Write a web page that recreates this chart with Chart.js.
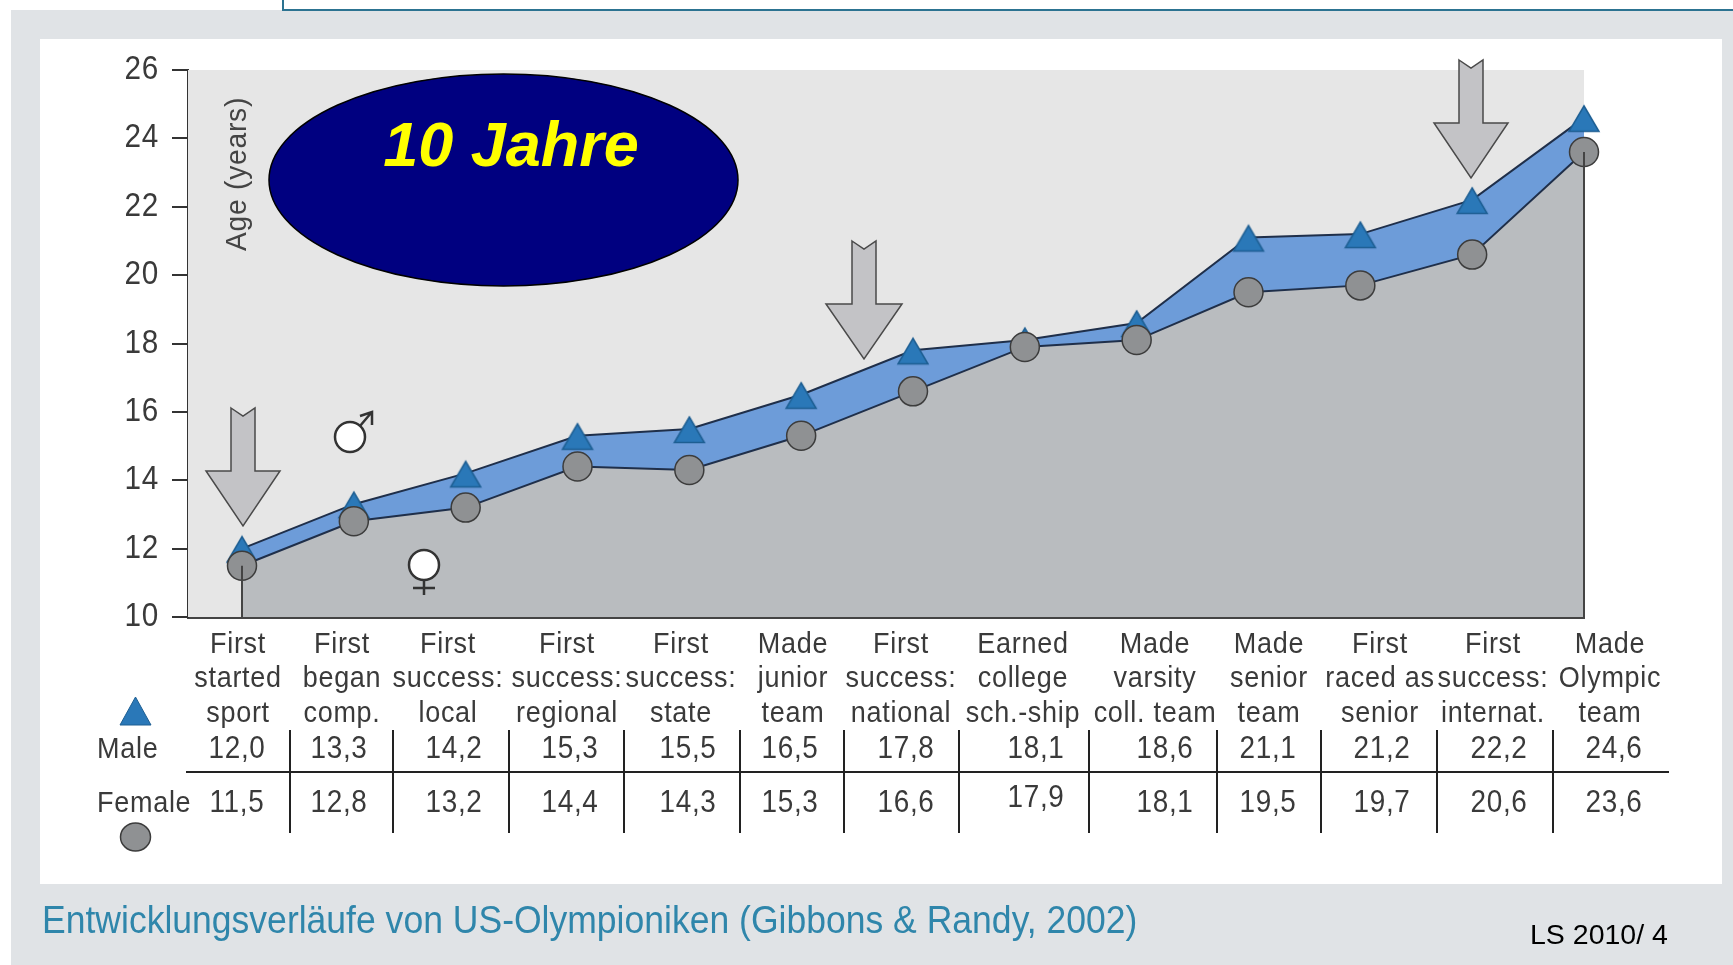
<!DOCTYPE html>
<html>
<head>
<meta charset="utf-8">
<title>Entwicklungsverläufe</title>
<script src="https://cdn.jsdelivr.net/npm/chart.js@4/dist/chart.umd.js"></script>
<style>
	html, body {margin: 0; padding: 0; width: 1733px; height: 965px; overflow: hidden; background: #fff;}
	div, canvas {position: absolute;}
	#frame {left: 11px; top: 10px; width: 1722px; height: 955px; background: #e0e3e6;}
	#topbox {left: 282px; top: -6px; width: 1460px; height: 13px; border: 2px solid #2c7391; background: #fff;}
	#panel {left: 40px; top: 39px; width: 1682px; height: 845px; background: #fff;}
	#chart {left: 0; top: 0;}
	#caption {left: 42px; top: 899px; font: 38px "Liberation Sans", sans-serif; color: #2f86ab; white-space: nowrap; transform: scaleX(0.935); transform-origin: left top;}
	#stamp {left: 1530px; top: 918px; font: 28.5px "Liberation Sans", sans-serif; color: #000; white-space: nowrap;}
</style>
</head>
<body>
<div id="frame"></div>
<div id="topbox"></div>
<div id="panel"></div>
<canvas id="chart" width="1733" height="965"></canvas>
<div id="caption">Entwicklungsverläufe von US-Olympioniken (Gibbons &amp; Randy, 2002)</div>
<div id="stamp">LS 2010/ 4</div>
<script>
var categories = [
	['First', 'started', 'sport'],
	['First', 'began', 'comp.'],
	['First', 'success:', 'local'],
	['First', 'success:', 'regional'],
	['First', 'success:', 'state'],
	['Made', 'junior', 'team'],
	['First', 'success:', 'national'],
	['Earned', 'college', 'sch.-ship'],
	['Made', 'varsity', 'coll. team'],
	['Made', 'senior', 'team'],
	['First', 'raced as', 'senior'],
	['First', 'success:', 'internat.'],
	['Made', 'Olympic', 'team']
];
var male = [12.0, 13.3, 14.2, 15.3, 15.5, 16.5, 17.8, 18.1, 18.6, 21.1, 21.2, 22.2, 24.6];
var female = [11.5, 12.8, 13.2, 14.4, 14.3, 15.3, 16.6, 17.9, 18.1, 19.5, 19.7, 20.6, 23.6];

// where the printed table puts things, it does not line up with the points
var labelCenters = [238, 342, 448, 567, 681, 793, 901, 1023, 1155, 1269, 1380, 1493, 1610];
var valueCenters = [237, 339, 454, 570, 688, 790, 906, 1036, 1165, 1268, 1382, 1499, 1614];
var dividers = [290, 393, 509, 624, 740, 844, 959, 1089, 1217, 1321, 1437, 1553];
var arrows = [
	{x: 243, top: 408, neck: 471, tip: 526, shaft: 12, head: 37},
	{x: 864, top: 241, neck: 304, tip: 359, shaft: 12, head: 38},
	{x: 1471, top: 60, neck: 123, tip: 178, shaft: 12, head: 37}
];

var FONT_SANS = '"Liberation Sans", sans-serif';
var TEXT_COLOR = '#3a3a3a';
var PLOT_LEFT = 188;
var FIRST_POINT = 242;
var PLOT_RIGHT = 1584;
var indexUnit = (PLOT_RIGHT - FIRST_POINT) / (male.length - 1);

// the print uses a condensed face and none is installed, so squeeze the glyphs
var textSqueeze = 0.9;

function squeezeText(ctx) {
	var fillText = ctx.fillText;
	ctx.fillText = function(text, x, y) {
		ctx.save();
		ctx.translate(x, y);
		ctx.scale(textSqueeze, 1);
		fillText.call(ctx, text, 0, 0);
		ctx.restore();
	};
}

function toIndex(px) {
	return (px - FIRST_POINT) / indexUnit;
}

function toPoints(values) {
	return values.map(function(v, i) {
		return {x: i, y: v};
	});
}

function formatValue(v) {
	return v.toFixed(1).replace('.', ',');
}

function drawTriangle(ctx, x, y, w, h) {
	ctx.beginPath();
	ctx.moveTo(x, y);
	ctx.lineTo(x + w / 2, y + h);
	ctx.lineTo(x - w / 2, y + h);
	ctx.closePath();
	ctx.fill();
	ctx.stroke();
}

// the triangles hang lower on the line than the built in style does
function createTriangleMarker() {
	var canvas = document.createElement('CANVAS');
	var ctx;
	canvas.width = 34;
	canvas.height = 32;
	ctx = canvas.getContext('2d');
	ctx.fillStyle = '#2a78b8';
	ctx.strokeStyle = '#1d5e92';
	ctx.lineWidth = 1.5;
	drawTriangle(ctx, 17, 4, 30, 25.5);
	return canvas;
}

function drawOval(ctx, x, y, rx, ry) {
	ctx.beginPath();
	ctx.ellipse(x, y, rx, ry, 0, 0, Math.PI * 2);
	ctx.fill();
	ctx.stroke();
}

function drawArrow(ctx, a) {
	ctx.beginPath();
	ctx.moveTo(a.x - a.shaft, a.top);
	ctx.lineTo(a.x, a.top + 8);
	ctx.lineTo(a.x + a.shaft, a.top);
	ctx.lineTo(a.x + a.shaft, a.neck);
	ctx.lineTo(a.x + a.head, a.neck);
	ctx.lineTo(a.x, a.tip);
	ctx.lineTo(a.x - a.head, a.neck);
	ctx.lineTo(a.x - a.shaft, a.neck);
	ctx.closePath();
	ctx.fillStyle = '#c3c3c6';
	ctx.strokeStyle = '#4a4a4a';
	ctx.lineWidth = 1.5;
	ctx.fill();
	ctx.stroke();
}

function drawGenderSigns(ctx) {
	ctx.fillStyle = '#fff';
	ctx.strokeStyle = '#333';
	ctx.lineWidth = 2.5;
	drawOval(ctx, 350, 437, 15, 15);
	drawOval(ctx, 424, 565, 15, 15);
	ctx.beginPath();
	ctx.moveTo(360, 426);
	ctx.lineTo(371, 413);
	ctx.moveTo(360, 416);
	ctx.lineTo(372, 412);
	ctx.lineTo(372, 425);
	ctx.moveTo(424, 580);
	ctx.lineTo(424, 595);
	ctx.moveTo(413, 588);
	ctx.lineTo(435, 588);
	ctx.stroke();
}

function drawTable(ctx) {
	var i;

	ctx.strokeStyle = '#222';
	ctx.lineWidth = 2;
	ctx.beginPath();
	ctx.moveTo(186, 772);
	ctx.lineTo(1669, 772);
	for (i = 0; i < dividers.length; i++) {
		ctx.moveTo(dividers[i], 730);
		ctx.lineTo(dividers[i], 833);
	}
	ctx.stroke();

	ctx.fillStyle = TEXT_COLOR;
	ctx.font = '31px ' + FONT_SANS;
	ctx.textAlign = 'center';
	ctx.textBaseline = 'alphabetic';
	for (i = 0; i < male.length; i++) {
		ctx.fillText(formatValue(male[i]), valueCenters[i], 758);
		// the 17,9 sits a little higher in the print
		ctx.fillText(formatValue(female[i]), valueCenters[i], i === 7 ? 807 : 812);
	}

	ctx.font = '30px ' + FONT_SANS;
	ctx.textAlign = 'left';
	ctx.fillText('Male', 97, 758);
	ctx.fillText('Female', 97, 812);

	ctx.fillStyle = '#2a78b8';
	ctx.strokeStyle = '#1d5e92';
	ctx.lineWidth = 1;
	drawTriangle(ctx, 135.5, 697, 31, 28);
	ctx.fillStyle = '#8f9193';
	ctx.strokeStyle = '#3c3c3c';
	ctx.lineWidth = 1.5;
	drawOval(ctx, 135.5, 837, 15, 14);
}

function drawBanner(ctx) {
	ctx.fillStyle = '#000080';
	ctx.strokeStyle = '#000';
	ctx.lineWidth = 1.5;
	drawOval(ctx, 503.5, 180, 234.5, 106);
	ctx.fillStyle = '#ff0';
	ctx.font = 'italic bold 63px ' + FONT_SANS;
	ctx.textAlign = 'center';
	ctx.textBaseline = 'alphabetic';
	ctx.letterSpacing = '0px';
	textSqueeze = 1;
	ctx.fillText('10 Jahre', 511, 166);
	textSqueeze = 0.9;
}

var printPlugin = {
	id: 'print',
	beforeDraw: function(chart) {
		chart.ctx.letterSpacing = '0.8px';
	},
	beforeDatasetsDraw: function(chart) {
		var ctx = chart.ctx;
		var area = chart.chartArea;
		ctx.save();
		ctx.fillStyle = '#e6e6e6';
		ctx.fillRect(area.left, area.top, area.right - area.left, area.bottom - area.top);
		ctx.restore();
	},
	afterDatasetsDraw: function(chart) {
		var ctx = chart.ctx;
		var xs = chart.scales.x;
		var ys = chart.scales.y;
		var last = female.length - 1;

		ctx.save();
		// drop lines closing the grey area at both ends
		ctx.strokeStyle = '#444';
		ctx.lineWidth = 2;
		ctx.beginPath();
		ctx.moveTo(xs.getPixelForValue(0), ys.getPixelForValue(female[0]));
		ctx.lineTo(xs.getPixelForValue(0), ys.getPixelForValue(10));
		ctx.moveTo(xs.getPixelForValue(last), ys.getPixelForValue(female[last]));
		ctx.lineTo(xs.getPixelForValue(last), ys.getPixelForValue(10));
		ctx.stroke();

		arrows.forEach(function(a) {
			drawArrow(ctx, a);
		});
		drawGenderSigns(ctx);

		ctx.translate(238, 251);
		ctx.rotate(-Math.PI / 2);
		ctx.fillStyle = '#444';
		ctx.font = '30px ' + FONT_SANS;
		ctx.textAlign = 'left';
		ctx.textBaseline = 'middle';
		textSqueeze = 0.94;
		ctx.fillText('Age (years)', 0, 0);
		textSqueeze = 0.9;
		ctx.restore();

		ctx.save();
		drawTable(ctx);
		drawBanner(ctx);
		ctx.restore();
	}
};

var context = document.getElementById('chart').getContext('2d');
squeezeText(context);

new Chart(context, {
	type: 'line',
	data: {
		datasets: [{
			label: 'Male',
			data: toPoints(male),
			order: 1,
			fill: '+1',
			backgroundColor: '#6d9cd9',
			borderColor: '#1f2f4a',
			borderWidth: 2,
			clip: false,
			pointStyle: createTriangleMarker(),
			pointRadius: 17
		}, {
			label: 'Female',
			data: toPoints(female),
			order: 0,
			fill: 'origin',
			backgroundColor: '#b9bcbf',
			borderColor: '#1f2f4a',
			borderWidth: 2,
			clip: false,
			pointStyle: 'circle',
			pointRadius: 14.5,
			pointBackgroundColor: '#8f9193',
			pointBorderColor: '#3c3c3c',
			pointBorderWidth: 1.5
		}]
	},
	options: {
		responsive: false,
		animation: false,
		layout: {padding: {left: 0, top: 70, right: 149, bottom: 0}},
		plugins: {legend: {display: false}, tooltip: {enabled: false}},
		scales: {
			x: {
				type: 'linear',
				min: toIndex(PLOT_LEFT),
				max: male.length - 1,
				grid: {display: false},
				border: {color: '#444', width: 3},
				afterBuildTicks: function(scale) {
					scale.ticks = labelCenters.map(function(px) {
						return {value: toIndex(px)};
					});
				},
				afterFit: function(scale) {
					scale.height = 348;
				},
				ticks: {
					autoSkip: false,
					maxRotation: 0,
					padding: 2,
					color: TEXT_COLOR,
					font: {family: FONT_SANS, size: 30, lineHeight: 1.15},
					callback: function(value, index) {
						return categories[index];
					}
				}
			},
			y: {
				min: 10,
				max: 26,
				grid: {drawOnChartArea: false, tickLength: 16, color: '#333', lineWidth: 2},
				border: {color: '#333', width: 2},
				afterFit: function(scale) {
					scale.width = PLOT_LEFT;
				},
				ticks: {
					stepSize: 2,
					padding: 13,
					color: TEXT_COLOR,
					font: {family: FONT_SANS, size: 33}
				}
			}
		}
	},
	plugins: [printPlugin]
});
</script>
</body>
</html>
